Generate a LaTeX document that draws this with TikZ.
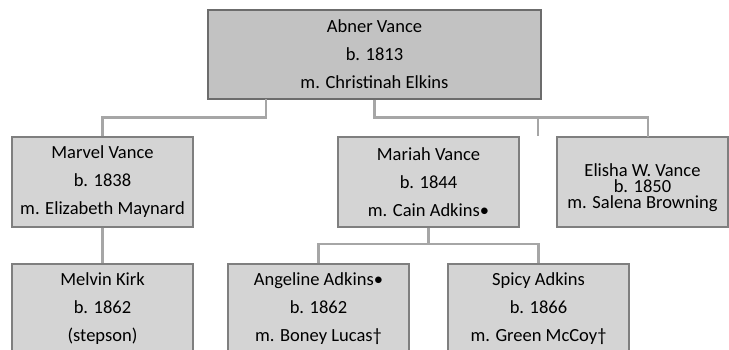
\documentclass[tikz,border=0pt]{standalone}
\usepackage{fontspec}
\setmainfont{Carlito}
\definecolor{linegray}{HTML}{A6A6A6}
\definecolor{boxedge}{HTML}{7F7F7F}
\definecolor{topfill}{HTML}{C2C2C2}
\definecolor{rowfill}{HTML}{D4D4D4}
\begin{document}
\begin{tikzpicture}[x=1pt,y=-1pt,
  person/.style={draw=boxedge,line width=1.2pt,fill=rowfill,inner sep=0pt,
    minimum width=181pt,minimum height=90pt,align=center,
    font=\fontsize{18.5}{28}\selectfont},
  topperson/.style={person,fill=topfill,draw=boxedge!85!black,minimum width=333pt,minimum height=89pt},
  link/.style={draw=linegray,line width=2.4pt}]
\useasboundingbox (0,0) rectangle (729,349);
\begin{scope}
\clip (0,0) rectangle (729,349);
% boxes
\node[topperson] (abner) at (374.5,54.5) {Abner Vance\\b. 1813\\m. Christinah Elkins};
\node[person] (marvel) at (102.5,182) {Marvel Vance\\b. 1838\\m. Elizabeth Maynard};
\node[person] (mariah) at (428.5,182) {Mariah Vance\\b. 1844\\m. Cain Adkins•};
\node[person,minimum width=171pt] (elisha) at (642.5,182) {};
\node[font=\fontsize{18.5}{16}\selectfont,align=center,inner sep=0pt] (elishatext) at (642.5,188) {Elisha W. Vance\\b. 1850\\m. Salena Browning};
\node[person] (melvin) at (102.5,309) {Melvin Kirk\\b. 1862\\(stepson)};
\node[person] (angeline) at (318.5,309) {Angeline Adkins•\\b. 1862\\m. Boney Lucas†};
\node[person] (spicy) at (538.5,309) {Spicy Adkins\\b. 1866\\m. Green McCoy†};
% junction coordinates
\coordinate (leftdrop) at (266,99);
\coordinate (rowbar) at (374.5,117.5);
\coordinate (stubtop) at (538,117.5);
\coordinate (stubend) at (538,136);
\coordinate (elishain) at (648,137);
\coordinate (kidsbar) at (428.5,244);
% connectors
\draw[link] (leftdrop) |- (rowbar -| marvel.north) -- (marvel.north);
\draw[link] (abner.south) |- (rowbar -| elishain) -- (elishain);
\draw[link] (stubtop) -- (stubend);
\draw[link] (marvel.south) -- (melvin.north);
\draw[link] (mariah.south) -- (kidsbar);
\draw[link] (angeline.north) |- (kidsbar) -| (spicy.north);
\end{scope}
\end{tikzpicture}
\end{document}
